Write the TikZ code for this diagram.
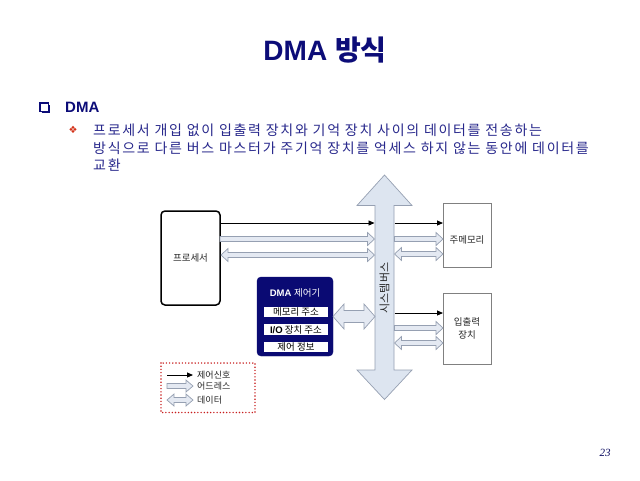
\documentclass[tikz,border=0pt]{standalone}
\usepackage{fontspec}
\setmainfont{Liberation Sans}
\newfontfamily\kr{Noto Sans CJK KR}
\newfontfamily\krsp[LetterSpace=12]{Noto Sans CJK KR}
\newfontfamily\sym{DejaVu Sans}
\newfontfamily\serif{Liberation Serif}
\usetikzlibrary{arrows.meta}
\definecolor{navy}{RGB}{12,12,120}
\definecolor{bodyblue}{RGB}{40,40,140}
\definecolor{dmafill}{RGB}{10,10,115}
\definecolor{hfill}{RGB}{228,233,242}
\definecolor{hdraw}{RGB}{150,160,178}
\definecolor{busfill}{RGB}{221,229,240}
\definecolor{legred}{RGB}{200,30,30}
\definecolor{boxgray}{RGB}{128,128,128}
\newcommand\fs[1]{\fontsize{#1}{#1}\selectfont}
% right hollow arrow: x1, x2, y, shaft half, head half, head length
\newcommand\harrR[6]{\draw[hollow] (#1,#3-#4) -- (#2-#6,#3-#4) -- (#2-#6,#3-#5) -- (#2,#3) -- (#2-#6,#3+#5) -- (#2-#6,#3+#4) -- (#1,#3+#4) -- cycle;}
\newcommand\harrLR[6]{\draw[hollow] (#1,#3) -- (#1+#6,#3-#5) -- (#1+#6,#3-#4) -- (#2-#6,#3-#4) -- (#2-#6,#3-#5) -- (#2,#3) -- (#2-#6,#3+#5) -- (#2-#6,#3+#4) -- (#1+#6,#3+#4) -- (#1+#6,#3+#5) -- cycle;}
\tikzset{
  hollow/.style={fill=hfill, draw=hdraw, line width=0.7pt, line join=miter},
  ctrl/.style={draw=black, line width=0.9pt, -{Triangle[length=6pt,width=5pt]}},
  plainbox/.style={draw=boxgray, line width=0.7pt, fill=white, inner sep=0pt},
  proc/.style={draw=black, line width=1.5pt, rounded corners=4pt, inner sep=0pt},
  dmabox/.style={fill=dmafill, draw=dmafill, rounded corners=4pt, inner sep=0pt},
  regbox/.style={fill=white, draw=none, inner sep=0pt, minimum width=64pt, minimum height=10.5pt, font=\kr\fs{9.5}},
  lbl/.style={font=\kr\fs{9.5}, text=black!85, inner sep=0pt},
  bodytxt/.style={text=bodyblue, font=\krsp\fs{14}, anchor=west, inner sep=0pt},
}
\begin{document}
\begin{tikzpicture}[x=1pt,y=-1pt]
\useasboundingbox (0,0) rectangle (640,480);
\fill[white] (0,0) rectangle (640,480);

% title
\node[text=navy, font=\bfseries\fs{28}, inner sep=0pt] (title) at (325,50) {DMA {\kr\bfseries 방식}};

% heading
\draw[navy, line width=1.1pt] (40,103) rectangle (48.5,111.5);
\draw[navy, line width=1.3pt] (41.5,112.6) -- (49.6,112.6) -- (49.6,104.5);
\node[text=navy, font=\bfseries\fs{15}, anchor=west, inner sep=0pt] (head) at (65,107) {DMA};
\node[text=legred!80!orange, font=\sym\fs{10}, inner sep=0pt] (bul) at (73,130) {❖};
\node[bodytxt] (l1) at (93,130) {프로세서 개입 없이 입출력 장치와 기억 장치 사이의 데이터를 전송하는};
\node[bodytxt] (l2) at (93,148) {방식으로 다른 버스 마스터가 주기억 장치를 억세스 하지 않는 동안에 데이터를};
\node[bodytxt] (l3) at (93,165) {교환};

% system bus
\draw[fill=busfill, draw=hdraw, line width=0.7pt, line join=miter]
  (384.5,175) -- (412,205.5) -- (394,205.5) -- (394,370) -- (412,370) -- (384.5,399.5)
  -- (357,370) -- (375,370) -- (375,205.5) -- (357,205.5) -- cycle;
\node[font=\kr\fs{11}, rotate=90, text=black!85, inner sep=0pt] (busl) at (384.5,288) {시스템버스};
\coordinate (busL) at (375,288);
\coordinate (busR) at (394,288);

% processor
\node[proc, minimum width=59pt, minimum height=94pt] (cpu) at (190.5,258) {};
\node[lbl] at (cpu.center) {프로세서};

% memory and io
\node[plainbox, minimum width=48pt, minimum height=64pt] (mem) at (467,235) {};
\node[lbl] at (467,240) {주메모리};
\node[plainbox, minimum width=48pt, minimum height=71pt] (io) at (467,328.5) {};
\node[lbl, align=center] at (467,328.5) {입출력\\[3pt]장치};

% processor <-> bus
\draw[ctrl] (220,223) -- (374.5,223);
\harrR{220}{374.5}{239}{2.5}{6.5}{7}
\harrLR{221}{374.5}{255}{2.5}{6.5}{7}

% bus -> memory
\draw[ctrl] (394.5,223) -- (443,223);
\harrR{394.5}{443}{239}{2.5}{6.5}{7}
\harrLR{394.5}{443}{254}{2.5}{6.5}{7}

% bus -> io
\draw[ctrl] (394.5,313) -- (443,313);
\harrR{394.5}{443}{328}{2.5}{6.5}{7}
\harrLR{394.5}{443}{343}{2.5}{6.5}{7}

% DMA controller
\node[dmabox, minimum width=76pt, minimum height=79pt] (dma) at (295,316.5) {};
\node[text=white, font=\fs{9.5}, inner sep=0pt] (dmat) at (295,292.5) {{\bfseries DMA} {\kr 제어기}};
\node[regbox] (r1) at (296,312) {메모리 주소};
\node[regbox] (r2) at (296,329.5) {{\fontspec{Liberation Sans}\bfseries I/O} 장치 주소};
\node[regbox] (r3) at (296,347) {제어 정보};
\harrLR{333}{375}{316.5}{6}{12.5}{11}

% legend
\draw[legred, line width=1.6pt, dash pattern=on 0pt off 3.2pt, line cap=round] (161,363) rectangle (255,412.5);
\draw[ctrl] (167,375) -- (193,375);
\harrR{167}{193}{386}{2.5}{6}{7}
\harrLR{167}{193}{400}{2.5}{6}{7}
\node[lbl, anchor=west, font=\kr\fs{9}] (lg1) at (197,375) {제어신호};
\node[lbl, anchor=west, font=\kr\fs{9}] (lg2) at (197,386.5) {어드레스};
\node[lbl, anchor=west, font=\kr\fs{9}] (lg3) at (197,400) {데이터};

% page number
\node[font=\serif\itshape\fs{11}, text=navy!80!black, inner sep=0pt] (pg) at (605,453) {23};
\end{tikzpicture}
\end{document}
